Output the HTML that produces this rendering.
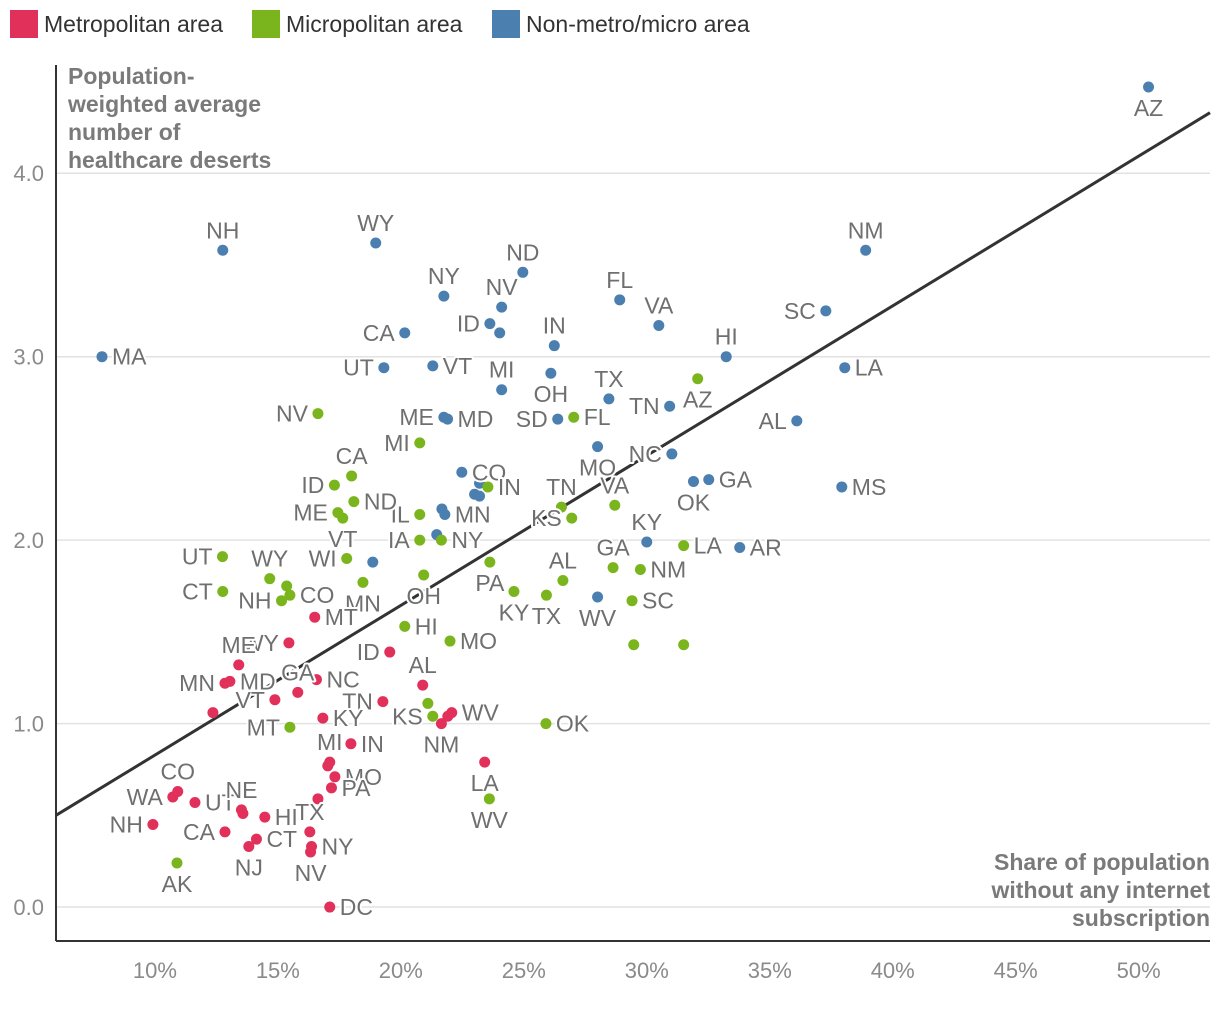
<!DOCTYPE html>
<html><head><meta charset="utf-8"><style>
html,body{margin:0;padding:0;background:#fff;}
svg{display:block;font-family:"Liberation Sans",sans-serif;}
.lbl{font-size:23px;fill:#6f6f6f;stroke:#fff;stroke-width:4px;paint-order:stroke;stroke-linejoin:round;}
.tick{font-size:22px;fill:#8a8a8a;}
.ttl{font-size:23px;font-weight:bold;fill:#7a7a7a;}
.leg{font-size:23px;fill:#333;}
</style></head><body>
<svg id="chart" width="1220" height="1010">
<g>
<rect x="10" y="10" width="28" height="28" fill="#e1305a"/>
<text class="leg" x="44" y="32">Metropolitan area</text>
<rect x="252" y="10" width="28" height="28" fill="#7ab51d"/>
<text class="leg" x="286" y="32">Micropolitan area</text>
<rect x="492" y="10" width="28" height="28" fill="#4a7fb0"/>
<text class="leg" x="526" y="32">Non-metro/micro area</text>
</g>
<g id="grid"></g>
<g id="reg"></g>
<g id="pts"></g>
<g id="lbls"></g>
<g id="axes"></g>
<text class="ttl"><tspan x="68" y="84">Population-</tspan><tspan x="68" y="112">weighted average</tspan><tspan x="68" y="140">number of</tspan><tspan x="68" y="168">healthcare deserts</tspan></text>
<text class="ttl" text-anchor="end"><tspan x="1210" y="870">Share of population</tspan><tspan x="1210" y="898">without any internet</tspan><tspan x="1210" y="926">subscription</tspan></text>
</svg>
<script>
const xTicks=[10,15,20,25,30,35,40,45,50];
const yTicks=[0,1,2,3,4];
const regStart=[5.98,0.50];
const regEnd=[52.9,4.33];
const blueNames=["AZ","NH","WY","ND","NM","NY","NV","FL","VA","SC","CA","ID","","IN","MA","HI","UT","VT","MI","OH","LA","TX","TN","ME","MD","SD","AL","MO","NC","GA","OK","MS","CO","","","","","MN","","","KY","AR","WV"];
const blueX=[50.4,12.76,18.98,24.96,38.9,21.75,24.1,28.9,30.49,37.28,20.16,23.62,24.02,26.24,7.85,33.23,19.31,21.3,24.1,26.1,38.05,28.46,30.93,21.75,21.9,26.38,36.1,28.0,31.02,32.52,31.9,37.93,22.48,23.2,23.0,23.2,21.67,21.79,21.46,18.86,30.0,33.78,28.0];
const blueY=[4.47,3.58,3.62,3.46,3.58,3.33,3.27,3.31,3.17,3.25,3.13,3.18,3.13,3.06,3.00,3.00,2.94,2.95,2.82,2.91,2.94,2.77,2.73,2.67,2.66,2.66,2.65,2.51,2.47,2.33,2.32,2.29,2.37,2.31,2.25,2.24,2.17,2.14,2.03,1.88,1.99,1.96,1.69];
const blueSide=["b","t","t","t","t","t","t","t","t","l","l","l","t","t","r","t","l","r","t","b","r","t","l","l","r","l","l","b","l","r","b","r","r","r","r","r","r","r","r","r","t","r","b"];
const greenNames=["AZ","FL","MI","IN","IL","TN","KS","VA","IA","NY","PA","AL","GA","NM","LA","OH","KY","TX","SC","MO","","","NV","CA","ID","ND","ME","VT","UT","WI","MN","CT","WY","NH","CO","","HI","MT","OK","WV","AK","","KS"];
const greenX=[32.07,27.03,20.77,23.54,20.77,26.53,26.95,28.7,20.77,21.65,23.62,26.59,28.63,29.74,31.5,20.93,24.6,25.92,29.4,22.0,29.47,31.5,16.63,18.0,17.3,18.09,17.44,17.64,12.75,17.8,18.46,12.76,14.67,15.15,15.49,15.36,20.16,15.49,25.9,23.6,10.9,21.1,21.3];
const greenY=[2.88,2.67,2.53,2.29,2.14,2.18,2.12,2.19,2.00,2.00,1.88,1.78,1.85,1.84,1.97,1.81,1.72,1.70,1.67,1.45,1.43,1.43,2.69,2.35,2.30,2.21,2.15,2.12,1.91,1.90,1.77,1.72,1.79,1.67,1.70,1.75,1.53,0.98,1.00,0.59,0.24,1.11,1.04];
const greenSide=["b","r","l","r","l","t","l","t","l","r","b","t","t","r","r","b","b","b","r","r","r","r","l","t","l","r","l","b","l","l","b","l","t","l","r","r","r","l","r","b","b","r","l"];
const redNames=["MT","WY","ME","MN","MD","VT","GA","NC","","ID","AL","TN","KY","WV","","NM","IN","LA","MI","","MO","PA","","CO","WA","UT","NE","","NH","CA","CT","NJ","TX","NY","NV","DC","HI"];
const redX=[16.5,15.45,13.41,12.85,13.05,14.88,15.81,16.57,12.36,19.55,20.89,19.27,16.83,22.07,21.91,21.65,17.97,23.41,17.11,17.03,17.32,17.18,16.63,10.93,10.73,11.63,13.52,13.58,9.92,12.85,14.13,13.82,16.3,16.37,16.33,17.11,14.47];
const redY=[1.58,1.44,1.32,1.22,1.23,1.13,1.17,1.24,1.06,1.39,1.21,1.12,1.03,1.06,1.04,1.00,0.89,0.79,0.79,0.77,0.71,0.65,0.59,0.63,0.60,0.57,0.53,0.51,0.45,0.41,0.37,0.33,0.41,0.33,0.30,0.00,0.49];
const redSide=["r","l","t","l","r","l","t","r","r","l","t","l","r","r","r","b","r","b","t","r","r","r","r","t","l","r","t","r","l","l","r","b","t","r","b","r","r"];

const NS="http://www.w3.org/2000/svg";
const X0=56,X1=1210,Y0=941,Y1=65;
const xMin=5.98,xMax=52.9,yMin=-0.185,yMax=4.59;
function sx(v){return X0+(v-xMin)/(xMax-xMin)*(X1-X0);}
function sy(v){return Y0-(v-yMin)/(yMax-yMin)*(Y0-Y1);}
function mk(tag,attrs,parent){const e=document.createElementNS(NS,tag);for(const k in attrs)e.setAttribute(k,attrs[k]);parent.appendChild(e);return e;}
const grid=document.getElementById('grid'),axes=document.getElementById('axes');
yTicks.forEach(t=>{
  const l=mk('line',{x1:X0,x2:X1,y1:sy(t),y2:sy(t),stroke:'#e2e2e2','stroke-width':1.5},grid);
  
  
  const tx=mk('text',{x:44,y:sy(t)+8,'text-anchor':'end',class:'tick'},axes);
  tx.textContent=t.toFixed(1);
  
  
});
xTicks.forEach(t=>{
  const tx=mk('text',{x:sx(t),y:978,'text-anchor':'middle',class:'tick'},axes);
  tx.textContent=t+'%';
  
  
});
const ya=mk('line',{x1:X0,x2:X0,y1:Y1,y2:Y0,stroke:'#333','stroke-width':2},axes);


const xa=mk('line',{x1:X0,x2:X1,y1:Y0,y2:Y0,stroke:'#333','stroke-width':2},axes);


const rl=mk('line',{x1:sx(regStart[0]),y1:sy(regStart[1]),x2:sx(regEnd[0]),y2:sy(regEnd[1]),stroke:'#333','stroke-width':3},document.getElementById('reg'));


const pts=document.getElementById('pts'),lbls=document.getElementById('lbls');
function series(names,xs,ys,sides,color,key){
  xs.forEach((v,i)=>{
    const cx=sx(v),cy=sy(ys[i]);
    const c=mk('circle',{cx:cx,cy:cy,r:5.5,fill:color},pts);
    
    
    if(!names[i])return;
    const s=sides[i];let x=cx,y=cy+8,a='middle';
    if(s==='r'){x=cx+10;a='start';}
    else if(s==='l'){x=cx-10;a='end';}
    else if(s==='t'){y=cy-12;}
    else {y=cy+29;}
    const t=mk('text',{x:x,y:y,'text-anchor':a,class:'lbl'},lbls);
    t.textContent=names[i];
    
    
  });
}
series(blueNames,blueX,blueY,blueSide,'#4a7fb0','nonmetro');
series(greenNames,greenX,greenY,greenSide,'#7ab51d','micro');
series(redNames,redX,redY,redSide,'#e1305a','metro');
</script>
</body></html>
